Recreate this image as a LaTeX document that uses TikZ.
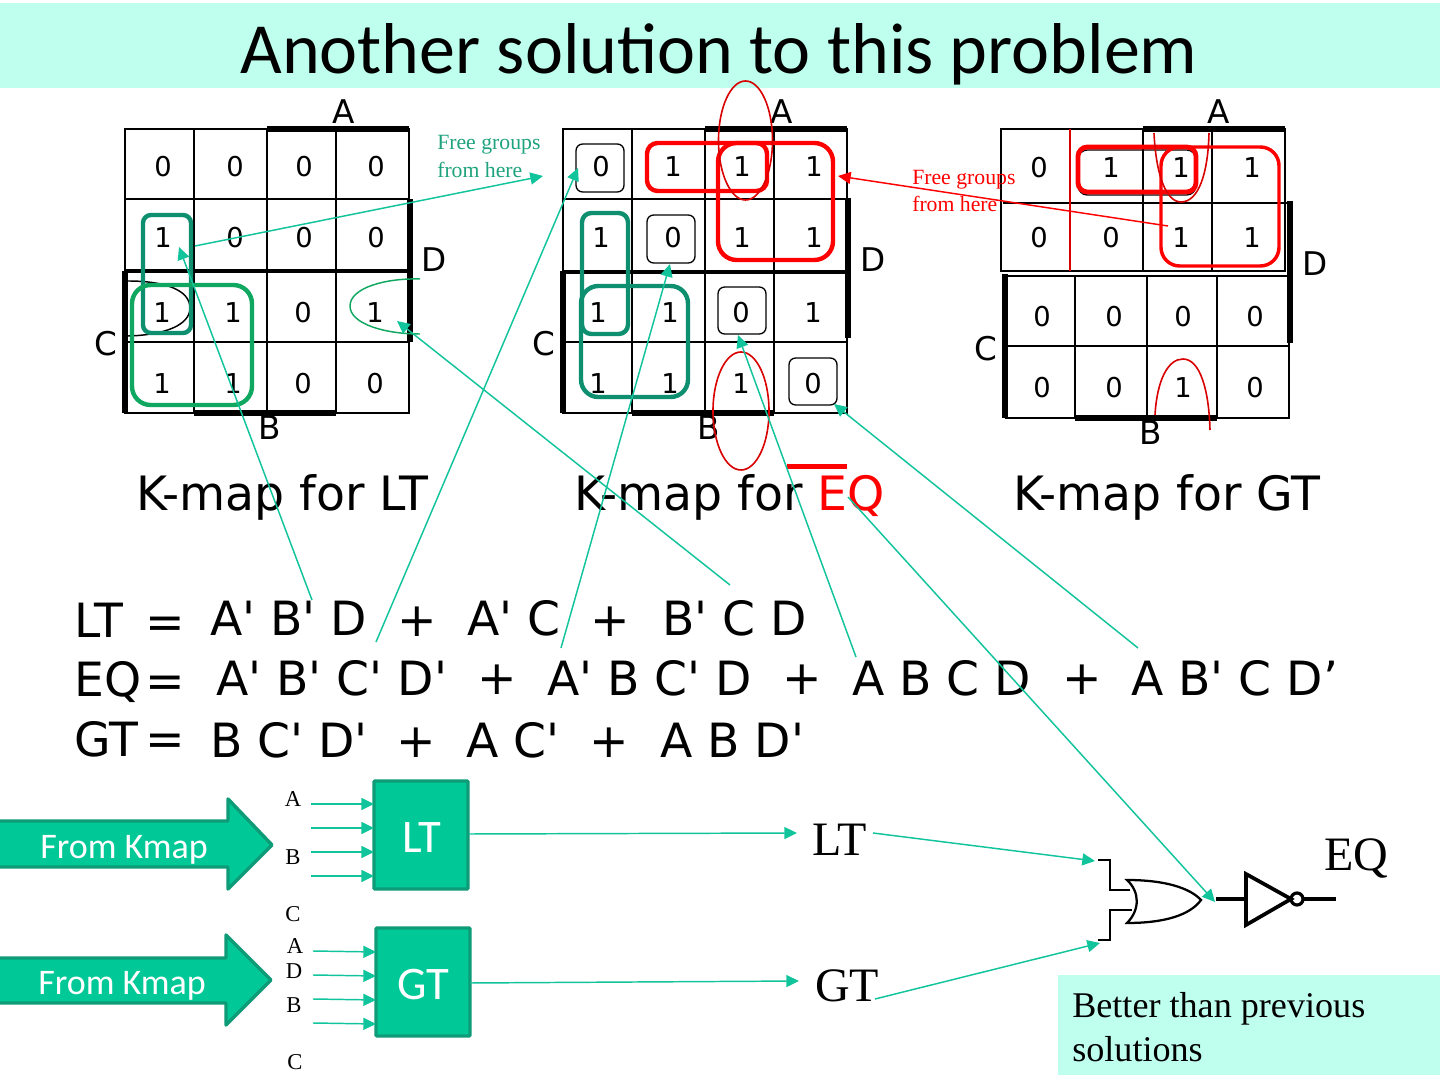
\documentclass[tikz,border=0pt]{standalone}
\usepackage{fontspec}
\setmainfont{DejaVu Sans}
\newfontfamily\djv{DejaVu Sans}
\newfontfamily\carl{Carlito}
\newfontfamily\lser{Liberation Serif}
\usetikzlibrary{arrows.meta}
\definecolor{band}{HTML}{BFFFEE}
\definecolor{connc}{HTML}{12C49C}
\definecolor{tealg}{HTML}{0E8F70}
\definecolor{greeng}{HTML}{10A860}
\definecolor{boxf}{HTML}{00C997}
\definecolor{boxd}{HTML}{0E9B78}
\definecolor{freeg}{HTML}{1FA37E}
\newcommand{\fs}[1]{\fontsize{#1}{#1}\selectfont}
\newcommand{\kmrow}[2]{\foreach \px/\v in {#2} {\node[dig] (d\px-#1) at (\px,#1) {\v};}}
\tikzset{
  x=0.75pt,y=-0.75pt,
  dig/.style={inner sep=0pt,font=\fs{20.5}},
  axis/.style={inner sep=0pt,font=\fs{24.5}},
  gridl/.style={black,line width=1.5pt},
  bar/.style={black,line width=3.8pt},
  ring/.style={line width=#1,rounded corners=9pt},
  redring/.style={red,ring=3.3pt},
  tealring/.style={tealg,ring=3.3pt},
  cell/.style={black,line width=1pt,rounded corners=5pt},
  connarrow/.style={connc,line width=1.1pt,-{Triangle[length=9.5pt,width=9pt]}},
  redarr/.style={red,line width=1.1pt,-{Triangle[length=9.5pt,width=9pt]}},
  eqt/.style={inner sep=0pt,anchor=base west,font=\djv\fs{35.4}},
  eqo/.style={inner sep=0pt,font=\djv\fs{35.4}},
  kt/.style={inner sep=0pt,anchor=base west,font=\djv\fs{35.5}},
  free/.style={inner sep=0pt,anchor=west,font=\lser\fs{16.3}},
  serl/.style={inner sep=0pt,font=\lser\fs{17}},
  serb/.style={inner sep=0pt,font=\lser\fs{36}},
  blockbox/.style={fill=boxf,draw=boxd,line width=2.4pt,rounded corners=0.6pt},
  blockarrow/.style={fill=boxf,draw=boxd,line width=2.6pt,line join=round},
  gate/.style={black,line width=1.7pt},
}
\begin{document}
\begin{tikzpicture}
\useasboundingbox (0,0) rectangle (1440,1080);
\fill[white] (0,0) rectangle (1440,1080);
\fill[band] (0,3) rectangle (1440,88);
\node[inner sep=0pt,anchor=base,font=\carl\fs{54}] (title) at (719,74) {Another solution to this problem};

% ---- K-map LT
\draw[gridl] (125,129) rectangle (409,413);
\foreach \q in {194,267,336} \draw[gridl] (\q,129) -- (\q,413);
\foreach \q in {199,342} \draw[gridl] (125,\q) -- (409,\q);
\draw[black,line width=2.4pt] (125,271) -- (409,271);
\draw[bar] (267,129) -- (409,129);
\draw[bar] (410,199) -- (410,342);
\draw[bar] (125,271) -- (125,413);
\draw[bar] (194,413) -- (336,413);
\kmrow{167}{163/0,235/0,304/0,376/0}
\kmrow{238}{163/1,235/0,304/0,376/0}
\kmrow{313}{162/1,233/1,303/0,375/1}
\kmrow{384}{162/1,233/1,303/0,375/0}
\node[axis] (lta) at (344,112) {A};
\node[axis] (ltd) at (434,260) {D};
\node[axis] (ltc) at (106,344) {C};
\node[axis] (ltb) at (270,428) {B};
\draw[black,line width=1.1pt] (128,281) .. controls (165,281) and (190,290) .. (190,308) .. controls (190,325) and (165,335) .. (128,336);
\draw[greeng,line width=1.1pt] (420,279) .. controls (385,278) and (350,288) .. (350,306) .. controls (350,324) and (385,334) .. (420,334);
\draw[tealring,rounded corners=6pt] (143,215) rectangle (191,333);
\draw[greeng,ring=3.3pt,rounded corners=14pt] (132,285) rectangle (252,405);

% ---- K-map EQ
\draw[gridl] (563,129) rectangle (847,413);
\foreach \q in {632,705,774} \draw[gridl] (\q,129) -- (\q,413);
\foreach \q in {199,342} \draw[gridl] (563,\q) -- (847,\q);
\draw[black,line width=2.4pt] (563,272) -- (847,272);
\draw[bar] (705,129) -- (847,129);
\draw[bar] (848,198) -- (848,338);
\draw[bar] (563,271) -- (563,413);
\draw[bar] (632,413) -- (774,413);
\kmrow{167}{601/0,673/1,742/1,814/1}
\kmrow{238}{601/1,673/0,742/1,814/1}
\kmrow{313}{598/1,670/1,741/0,813/1}
\kmrow{384}{598/1,670/1,741/1,813/0}
\node[axis] (eqa) at (782,112) {A};
\node[axis] (eqd) at (873,260) {D};
\node[axis] (eqc) at (544,344) {C};
\node[axis] (eqb) at (709,428) {B};
\draw[cell] (576,144) rectangle (624,192);
\draw[cell] (647,215) rectangle (695,263);
\draw[cell] (718,287) rectangle (766,334);
\draw[cell] (789,358) rectangle (837,405);
\draw[redring,rounded corners=8pt] (647,143) rectangle (767,191);
\draw[redring,rounded corners=14pt] (718,143) rectangle (833,260);
\draw[tealring,rounded corners=7pt] (582,213) rectangle (628,334);
\draw[tealring,rounded corners=13pt] (581,286) rectangle (688,397);
\draw[red!85!black,line width=1.2pt] (745.5,140.5) ellipse [x radius=27,y radius=59.5];
\draw[red!85!black,line width=1.2pt] (741,411) ellipse [x radius=28,y radius=59];

% ---- K-map GT
\draw[gridl] (1001,129) rectangle (1285,271);
\foreach \q in {1143,1212} \draw[gridl] (\q,129) -- (\q,271);
\draw[black,line width=1pt] (1003,203) -- (1290,203);
\draw[red!85!black,line width=1.2pt] (1070,129) -- (1070,271);
\draw[gridl] (1006,276) rectangle (1289,418);
\foreach \q in {1075,1147,1217} \draw[gridl] (\q,276) -- (\q,418);
\draw[gridl] (1006,346) -- (1289,346);
\draw[bar] (1143,129) -- (1285,129);
\draw[bar] (1290,201) -- (1290,343);
\draw[bar] (1005,274) -- (1005,418);
\draw[bar] (1075,418) -- (1217,418);
\kmrow{168}{1039/0,1111/1,1181/1,1252/1}
\kmrow{238}{1039/0,1111/0,1181/1,1252/1}
\kmrow{317}{1042/0,1114/0,1183/0,1255/0}
\kmrow{388}{1042/0,1114/0,1183/1,1255/0}
\node[axis] (gta) at (1219,112) {A};
\node[axis] (gtd) at (1315,264) {D};
\node[axis] (gtc) at (986,349) {C};
\node[axis] (gtb) at (1151,433) {B};
\draw[black,line width=1pt,rounded corners=7pt] (1078,150) rectangle (1196,195);
\draw[redring,line width=3.6pt,rounded corners=7pt] (1078,147) rectangle (1196,192);
\draw[redring,line width=2.6pt,rounded corners=14pt] (1161,147) rectangle (1279,266);
\draw[red!85!black,line width=1.2pt] (1154,133) .. controls (1156,175) and (1166,202) .. (1181,202) .. controls (1198,202) and (1208,175) .. (1209,133);
\draw[red!85!black,line width=1.2pt] (1155,415) .. controls (1157,380) and (1168,359) .. (1183,359) .. controls (1200,359) and (1209,390) .. (1210,430);

% ---- Captions
\node[kt] (kmlt) at (136,511) {K-map for LT};
\node[kt] (kmeq) at (574,511) {K-map for \textcolor{red}{EQ}};
\node[kt] (kmgt) at (1013,511) {K-map for GT};
\fill[red] (787,464) rectangle (847,469);
\node[free,text=freeg] (fg1a) at (437,145) {Free groups};
\node[free,text=freeg] (fg1b) at (437,170) {from here};
\node[free,text=red] (fg2a) at (912,180) {Free groups};
\node[free,text=red] (fg2b) at (912,204) {from here};

% ---- Equations
\node[eqt] (e1l) at (74,638) {LT};
\node[eqo] (e1e) at (165.5,628) {=};
\node[eqt] (e1a) at (210,635) {A' B' D};
\node[eqo] (e1p) at (417,622) {+};
\node[eqt] (e1b) at (467,635) {A' C};
\node[eqo] (e1q) at (610,622) {+};
\node[eqt] (e1c) at (662,635) {B' C D};
\node[eqt] (e2l) at (74,696) {EQ};
\node[eqo] (e2e) at (165.5,687) {=};
\node[eqt] (e2a) at (216,695) {A' B' C' D'};
\node[eqo] (e2p) at (497,680) {+};
\node[eqt] (e2b) at (547,695) {A' B C' D};
\node[eqo] (e2q) at (802,680) {+};
\node[eqt] (e2c) at (852,695) {A B C D};
\node[eqo] (e2r) at (1082,680) {+};
\node[eqt] (e2d) at (1131,695) {A B' C D’};
\node[eqt] (e3l) at (74,756) {GT};
\node[eqo] (e3e) at (165.5,745) {=};
\node[eqt] (e3a) at (210,757) {B C' D'};
\node[eqo] (e3p) at (416,743) {+};
\node[eqt] (e3b) at (466,757) {A C'};
\node[eqo] (e3q) at (609,743) {+};
\node[eqt] (e3c) at (660,757) {A B D'};

% ---- Blocks
\draw[blockarrow] (-5,821) -- (228,821) -- (228,799) -- (272,845) -- (228,889) -- (228,867) -- (-5,867) -- cycle;
\node[inner sep=0pt,text=white,font=\carl\fs{27}] (fk1) at (124,850) {From Kmap};
\draw[blockarrow] (-5,958) -- (226,958) -- (226,935) -- (271,980) -- (226,1025) -- (226,1003) -- (-5,1003) -- cycle;
\node[inner sep=0pt,text=white,font=\carl\fs{27}] (fk2) at (122,986) {From Kmap};
\node[blockbox,minimum width=70.5pt,minimum height=81pt] (ltb2) at (421,835) {};
\node[blockbox,minimum width=70.5pt,minimum height=81pt] (gtb2) at (423,982) {};
\node[inner sep=0pt,text=white,font=\carl\fs{35}] (ltlab) at (422,838) {LT};
\node[inner sep=0pt,text=white,font=\carl\fs{35}] (gtlab) at (423,985) {GT};
\node[serl] (i1) at (293,799) {A};
\node[serl] (i2) at (293,857) {B};
\node[serl] (i3) at (293,914) {C};
\node[serl] (i4) at (295,946) {A};
\node[serl] (i5) at (294,971) {D};
\node[serl] (i6) at (294,1005) {B};
\node[serl] (i7) at (295,1062) {C};
\node[serb] (ltout) at (840,840) {LT};
\node[serb] (gtout) at (847,986) {GT};
\node[serb] (eqout) at (1356,858) {EQ};

% ---- Gate
\draw[gate] (1098,860) -- (1110,860) -- (1110,890) -- (1130,890);
\draw[gate] (1098,940) -- (1110,940) -- (1110,910) -- (1132,910);
\draw[gate] (1127,880) .. controls (1140,892) and (1140,910) .. (1127,923) .. controls (1165,923) and (1190,915) .. (1201,900) .. controls (1190,888) and (1165,880) .. (1127,880) -- cycle;
\draw[black,line width=2.8pt] (1216,899) -- (1246,899);
\draw[black,line width=2.8pt,line join=miter] (1246,874) -- (1291,899) -- (1246,925) -- cycle;
\draw[black,line width=2.4pt] (1297,899) circle [radius=6];
\draw[black,line width=2.8pt] (1303,899) -- (1336,899);

% ---- Result box
\fill[band] (1058,975) rectangle (1440,1075);
\node[inner sep=0pt,anchor=west,font=\lser\fs{27.1}] (res1) at (1072,1009) {Better than previous};
\node[inner sep=0pt,anchor=west,font=\lser\fs{27.1}] (res2) at (1072,1049) {solutions};

% ---- Connectors
\foreach \n/\sx/\sy/\ex/\ey in {a/195/246/543/176,b/312/600/179/247,c/730/585/397/321,d/376/642/578/168,e/561/648/670/264,f/856/657/738/335,g/1138/648/834/404,h/848/497/1215/902,l/873/833/1095/861,m/875/999/1100/943,p/469/834/797/833,q/470/983/799/981}{
  \coordinate (s\n) at (\sx,\sy);
  \coordinate (t\n) at (\ex,\ey);
  \draw[connarrow] (s\n) -- (t\n);
}
\coordinate (rs) at (1168,226);
\coordinate (rt) at (838,176);
\draw[redarr] (rs) -- (rt);
\foreach \k/\yy in {1/804,2/828,3/852,4/876}{
  \coordinate (il\k) at (311,\yy);
  \coordinate (ir\k) at (374,\yy);
  \draw[connarrow] (il\k) -- (ir\k);
}
\foreach \k/\yy in {1/951,2/975,3/999,4/1023}{
  \coordinate (gl\k) at (313,\yy);
  \coordinate (gr\k) at (376,\yy+1);
  \draw[connarrow] (gl\k) -- (gr\k);
}
\end{tikzpicture}
\end{document}
